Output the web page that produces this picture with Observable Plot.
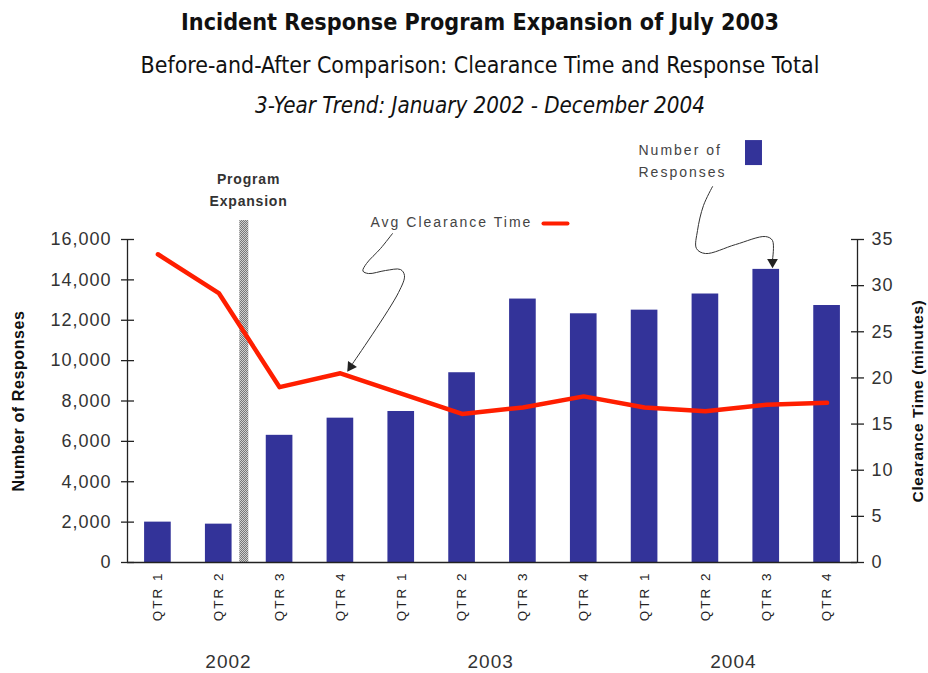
<!DOCTYPE html>
<html><head><meta charset="utf-8">
<script src="https://cdn.jsdelivr.net/npm/d3@7"></script>
<script src="https://cdn.jsdelivr.net/npm/@observablehq/plot@0.6"></script>
<style>
body{margin:0;background:#fff;width:928px;height:673px;overflow:hidden;position:relative;}
.t{position:absolute;left:16px;width:928px;text-align:center;white-space:nowrap;font-family:"DejaVu Sans Condensed","DejaVu Sans",sans-serif;color:#111;line-height:1;}
.t span{display:inline-block;}
#chart{position:absolute;left:0;top:125px;}
</style></head><body>
<svg width="0" height="0" style="position:absolute"><defs>
<pattern id="hatch" width="2" height="2" patternUnits="userSpaceOnUse">
<rect width="2" height="2" fill="#d0d0d0"/><rect width="1" height="1" fill="#777"/><rect x="1" y="1" width="1" height="1" fill="#777"/>
</pattern></defs></svg>
<div class="t" id="t1" style="top:11px;font-weight:bold;"><span>Incident Response Program Expansion of July 2003</span></div>
<div class="t" id="t2" style="top:54px;"><span>Before-and-After Comparison: Clearance Time and Response Total</span></div>
<div class="t" id="t3" style="top:94px;font-style:italic;"><span>3-Year Trend: January 2002 - December 2004</span></div>
<div id="chart"></div>
<script>
// ---- data ----
const quarters = ["QTR 1","QTR 2","QTR 3","QTR 4","QTR 1","QTR 2","QTR 3","QTR 4","QTR 1","QTR 2","QTR 3","QTR 4"];
const responses = [2000, 1900, 6300, 7150, 7480, 9400, 13050, 12320, 12500, 13300, 14520, 12730];
const clearance = [33.4, 29.2, 19.0, 20.5, 18.3, 16.1, 16.8, 18.0, 16.8, 16.4, 17.1, 17.3];
const years = ["2002", "2003", "2004"];
const yearPos = [1.16, 5.47, 9.46];
const leftTicks = [0, 2000, 4000, 6000, 8000, 10000, 12000, 14000, 16000];
const rightTicks = [0, 5, 10, 15, 20, 25, 30, 35];
const Y_MAX = 16000, T_MAX = 35;
const k = Y_MAX / T_MAX;

// annotation geometry (in data units: quarter index, responses)
const expansion = [{x1: 1.346, x2: 1.494, y1: 0, y2: 16940}];
const expansionText = [{x: 1.49, y: 18970, text: "Program"}, {x: 1.49, y: 17880, text: "Expansion"}];
const legendText = [
  {x: 3.495, y: 16840, text: "Avg Clearance Time"},
  {x: 7.9, y: 20406, text: "Number of"},
  {x: 7.9, y: 19316, text: "Responses"}
];
const redSwatch = [{x: 6.338, y: 16790}, {x: 6.733, y: 16790}];
const blueSwatch = [{x1: 9.659, x2: 9.938, y1: 19663, y2: 20901}];
const avgCallout = [
  {x: 3.856, y: 16295}, {x: 3.659, y: 15552}, {x: 3.429, y: 14809}, {x: 3.37, y: 14440},
  {x: 3.462, y: 14314}, {x: 3.741, y: 14463}, {x: 3.988, y: 14512}, {x: 4.053, y: 14215},
  {x: 3.955, y: 13373}, {x: 3.20, y: 9850}
];
const numCallout = [
  {x: 9.117, y: 18623}, {x: 8.968, y: 17682}, {x: 8.87, y: 16444}, {x: 8.853, y: 15552},
  {x: 9.0, y: 15305}, {x: 9.495, y: 15750}, {x: 9.988, y: 16146}, {x: 10.103, y: 15949},
  {x: 10.103, y: 15000}
];
const arrowHeads = [{x: 3.17, y: 9700, angle: 214}, {x: 10.103, y: 14880, angle: 180}];

const data = quarters.map((q, i) => ({i, q, responses: responses[i], time: clearance[i]}));
const hw = 0.219;   // half bar width in band units
const tk = 0.107;   // half tick length in band units

const chart = Plot.plot({
  width: 928, height: 548,
  marginTop: 114, marginBottom: 111, marginLeft: 127, marginRight: 71,
  style: {fontFamily: "'Liberation Sans', Arial, sans-serif", background: "transparent", overflow: "visible"},
  x: {type: "linear", domain: [-0.5, 11.5], axis: null},
  y: {domain: [0, Y_MAX], axis: null},
  marks: [
    Plot.rect(expansion, {x1: "x1", x2: "x2", y1: "y1", y2: "y2", fill: "url(#hatch)"}),
    Plot.rectY(data, {x1: d => d.i - hw, x2: d => d.i + hw, y1: 0, y2: "responses", fill: "#333399"}),
    Plot.line(data, {x: "i", y: d => d.time * k, stroke: "#ff1e00", strokeWidth: 4.5, strokeLinejoin: "round"}),
    // axes lines
    Plot.ruleX([-0.5], {y1: 0, y2: Y_MAX, stroke: "#222", strokeWidth: 1.3}),
    Plot.ruleX([11.5], {y1: 0, y2: Y_MAX, stroke: "#222", strokeWidth: 1.3}),
    Plot.ruleY([0], {x1: -0.5, x2: 11.5, stroke: "#222", strokeWidth: 1.3}),
    Plot.link(leftTicks, {x1: -0.5 - tk, x2: -0.5 + tk, y1: d => d, y2: d => d, stroke: "#222", strokeWidth: 1.3}),
    Plot.link(rightTicks, {x1: 11.5 - tk, x2: 11.5 + tk, y1: d => d * k, y2: d => d * k, stroke: "#222", strokeWidth: 1.3}),
    Plot.axisY(leftTicks, {anchor: "left", tickSize: 0, tickPadding: 16, tickFormat: d3.format(","), fontSize: 18, fill: "#333"}),
    Plot.axisY(rightTicks.map(t => t * k), {anchor: "right", tickSize: 0, tickPadding: 14, tickFormat: v => Math.round(v / k), fontSize: 18, fill: "#333"}),
    Plot.text(data, {x: "i", y: 0, dy: 9, text: "q", rotate: -90, textAnchor: "end", fontSize: 13.5, fill: "#222"}),
    Plot.text(years, {x: (d, i) => yearPos[i], y: 0, dy: 99, text: d => d, fontSize: 19, fill: "#333"}),
    Plot.text(["Number of Responses"], {frameAnchor: "left", textAnchor: "middle", dx: -109, rotate: -90, fontSize: 16, fontWeight: "bold", fill: "#111"}),
    Plot.text(["Clearance Time (minutes)"], {frameAnchor: "right", textAnchor: "middle", dx: 61, rotate: -90, fontSize: 15.5, fontWeight: "bold", fill: "#111"}),
    // annotations
    Plot.text(expansionText, {x: "x", y: "y", text: "text", fontSize: 14, fontWeight: "bold", fill: "#333"}),
    Plot.text(legendText, {x: "x", y: "y", text: "text", textAnchor: "start", fontSize: 14, fill: "#444"}),
    Plot.line(redSwatch, {x: "x", y: "y", stroke: "#ff1e00", strokeWidth: 4}),
    Plot.rect(blueSwatch, {x1: "x1", x2: "x2", y1: "y1", y2: "y2", fill: "#333399"}),
    Plot.line(avgCallout, {x: "x", y: "y", curve: "catmull-rom", stroke: "#333", strokeWidth: 1}),
    Plot.line(numCallout, {x: "x", y: "y", curve: "catmull-rom", stroke: "#333", strokeWidth: 1}),
    Plot.dot(arrowHeads, {x: "x", y: "y", symbol: "triangle", r: 4, rotate: "angle", fill: "#222", stroke: "none"})
  ]
});
document.getElementById("chart").appendChild(chart);

// letter spacing to match the reference's spaced type
d3.select(chart).selectAll("text").each(function() {
  const t = this.textContent;
  let ls = null;
  if (quarters.includes(t)) ls = "2px";
  else if (legendText.some(d => d.text === t)) ls = "2px";
  else if (expansionText.some(d => d.text === t)) ls = "0.8px";
  else if (years.includes(t)) ls = "1px";
  else if (/^[\d,]+$/.test(t)) ls = "1px";
  else if (t === "Number of Responses" || t === "Clearance Time (minutes)") ls = "0.6px";
  if (ls) this.setAttribute("letter-spacing", ls);
});

// fit title widths to reference
const targets = {t1: 598, t2: 679, t3: 450};
for (const id in targets) {
  const el = document.getElementById(id);
  const span = el.querySelector("span");
  el.style.fontSize = "20px";
  const w = span.getBoundingClientRect().width;
  el.style.fontSize = (20 * targets[id] / w).toFixed(2) + "px";
}
</script>
</body></html>
